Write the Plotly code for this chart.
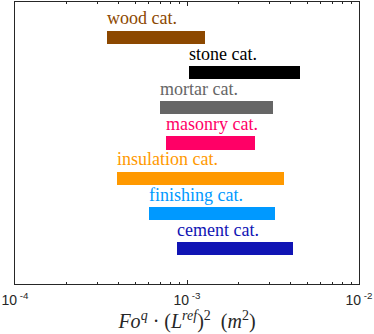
import numpy as np
import plotly.graph_objects as go

# categories, bottom to top
categories = ['cement cat.', 'finishing cat.', 'insulation cat.', 'masonry cat.',
              'mortar cat.', 'stone cat.', 'wood cat.']
lower = [8.75e-4, 6.04e-4, 3.9e-4, 7.55e-4, 6.97e-4, 1.03e-3, 3.41e-4]
upper = [4.12e-3, 3.26e-3, 3.68e-3, 2.48e-3, 3.18e-3, 4.56e-3, 1.28e-3]
colors = ['#1014b4', '#0099ff', '#ff9900', '#ff0066', '#666666', '#000000', '#8c4800']

xtick_vals = [1e-4, 1e-3, 1e-2]
xtick_text = ['10<sup> -4</sup>', '10<sup> -3</sup>', '10<sup> -2</sup>']

pos = list(range(1, len(categories) + 1))

fig = go.Figure()
fig.add_trace(go.Bar(
    orientation='h', y=pos,
    x=[u - l for l, u in zip(lower, upper)], base=lower,
    width=0.38, marker=dict(color=colors, line=dict(width=0)),
    showlegend=False, hoverinfo='skip'
))

for p, name, l, c in zip(pos, categories, lower, colors):
    fig.add_annotation(
        x=np.log10(l), y=p, text=name, showarrow=False,
        xanchor='left', yanchor='bottom', yshift=7, xshift=-2,
        font=dict(family='Liberation Serif, serif', size=18, color=c)
    )

minor_vals = [m * 10.0**e for e in (-4, -3) for m in range(2, 10)]

fig.update_xaxes(
    type='log', range=[-4, -2], automargin=False,
    tickvals=xtick_vals, ticktext=xtick_text,
    ticks='inside', ticklen=4, tickcolor='#262626', tickwidth=1,
    minor=dict(ticks='inside', ticklen=2, tickcolor='#262626', tickvals=minor_vals, showgrid=False),
    showline=True, linecolor='#262626', linewidth=1, mirror='ticks',
    showgrid=False, zeroline=False, ticklabelstandoff=3,
    tickfont=dict(family='Liberation Sans', size=14, color='#262626'),
    title=dict(
        text='<i>Fo</i><sup><i>q</i></sup> · (<i>L</i><sup><i>ref</i></sup>)<sup>2</sup>  (<i>m</i><sup>2</sup>)',
        font=dict(family='Liberation Serif, serif', size=20, color='#262626'),
        standoff=1
    )
)
fig.update_yaxes(
    range=[0, 8], showticklabels=False, ticks='', automargin=False,
    showline=True, linecolor='#262626', linewidth=1, mirror=True,
    showgrid=False, zeroline=False
)

fig.update_layout(
    width=374, height=334,
    margin=dict(l=15, r=15, t=2, b=50),
    plot_bgcolor='white', paper_bgcolor='white',
    bargap=0
)

# drop the page's default body margin so the figure sits at the window's corner
fig.write_html("out.html", config={'displayModeBar': False},
               post_script="document.body.style.margin='0';")
